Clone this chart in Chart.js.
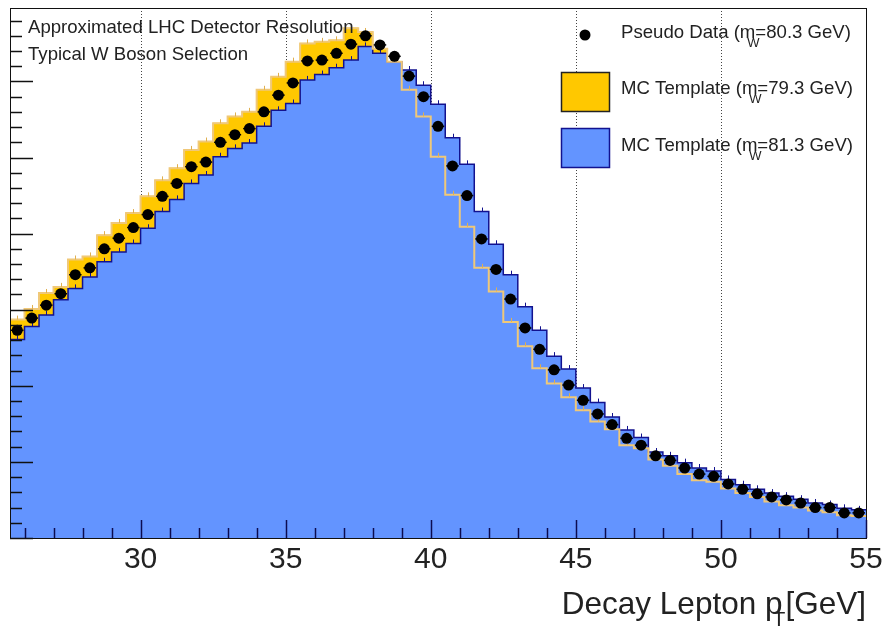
<!DOCTYPE html>
<html>
<head>
<meta charset="utf-8">
<script src="https://cdn.jsdelivr.net/npm/chart.js@4.4.1/dist/chart.umd.min.js"></script>
<style>
  html, body { margin: 0; padding: 0; background: #ffffff; }
  canvas { display: block; }
</style>
</head>
<body>
<canvas id="wpt" width="890" height="629"></canvas>
<script>
// Binning of the lepton pT histogram (GeV)
const ptMin = 25.5;
const ptMax = 55;
const binWidth = 0.5;
const ptBins = Array.from({ length: 59 }, (_, i) => ptMin + i * binWidth);   // low edges
const ptCenters = ptBins.map(lo => lo + binWidth / 2);

// Pseudo data, generated with m_W = 80.3 GeV
const pseudoData = [
  2730, 2890, 3060, 3210, 3460, 3550, 3800, 3940, 4080, 4250,
  4490, 4660, 4880, 4940, 5200, 5300, 5380, 5600, 5820, 5980,
  6270, 6280, 6370, 6490, 6600, 6480, 6330, 6070, 5800, 5410,
  4890, 4500, 3930, 3530, 3140, 2760, 2480, 2210, 2010, 1810,
  1630, 1490, 1310, 1220, 1080, 1020, 920, 840, 810, 710,
  640, 580, 540, 500, 460, 400, 400, 330, 330
];

// MC template, m_W = 79.3 GeV
const templateLow = [
  2870, 3010, 3220, 3300, 3660, 3700, 3980, 4140, 4270, 4490,
  4700, 4860, 5100, 5210, 5450, 5540, 5600, 5890, 6060, 6260,
  6500, 6520, 6540, 6700, 6650, 6430, 6260, 5890, 5540, 5010,
  4510, 4090, 3550, 3240, 2840, 2520, 2230, 2030, 1850, 1680,
  1530, 1430, 1220, 1180, 1030, 950, 840, 760, 740, 650,
  590, 540, 480, 430, 400, 360, 340, 300, 290
];

// MC template, m_W = 81.3 GeV
const templateHigh = [
  2610, 2780, 2930, 3130, 3280, 3430, 3630, 3760, 3870, 4070,
  4290, 4450, 4660, 4770, 5010, 5120, 5190, 5410, 5620, 5710,
  6020, 6090, 6180, 6280, 6460, 6370, 6260, 6150, 5950, 5700,
  5260, 4910, 4290, 3860, 3460, 3040, 2730, 2390, 2220, 1970,
  1780, 1590, 1420, 1320, 1130, 1080, 990, 920, 880, 770,
  700, 640, 590, 550, 510, 460, 440, 390, 370
];

// Axis ticks
const xMajorTicks = [30, 35, 40, 45, 50, 55];
const xGridTicks = [30, 35, 40, 45, 50];
const yMax = 6965;
const yMajorStep = 1000;
const yMinorStep = 200;
const xMinorStep = 1;

const FONT = '"Liberation Sans", Arial, Helvetica, sans-serif';
const TEXT = '#222222';
const YELLOW = '#ffc800';
const YELLOW_LINE = '#f0c878';
const BLUE = '#6394ff';
const NAVY = '#12128f';

// histogram outline: one point per low edge, plus the closing upper edge
const stepPoints = vals =>
  ptBins.map((x, i) => ({ x, y: vals[i] })).concat([{ x: ptMax, y: vals[vals.length - 1] }]);

// text with a subscript placed under the end of the preceding run
function drawWithSub(ctx, pre, sub, post, x, y, size, subSize, subDx, subDy, subAdvance) {
  ctx.font = size + 'px ' + FONT;
  const w1 = ctx.measureText(pre).width;
  ctx.fillText(pre, x, y);
  ctx.font = subSize + 'px ' + FONT;
  ctx.fillText(sub, x + w1 + subDx, y + subDy);
  ctx.font = size + 'px ' + FONT;
  ctx.fillText(post, x + w1 + subAdvance, y);
}
function widthWithSub(ctx, pre, post, size, subAdvance) {
  ctx.font = size + 'px ' + FONT;
  return ctx.measureText(pre).width + subAdvance + ctx.measureText(post).width;
}

const decorations = {
  id: 'decorations',
  beforeDatasetsDraw(chart) {
    const { ctx, chartArea: a, scales: { x } } = chart;
    ctx.save();
    ctx.strokeStyle = '#444';
    ctx.lineWidth = 1;
    ctx.setLineDash([1, 2]);
    xGridTicks.forEach(v => {
      const px = Math.round(x.getPixelForValue(v)) + 0.5;
      ctx.beginPath();
      ctx.moveTo(px, a.top);
      ctx.lineTo(px, a.bottom);
      ctx.stroke();
    });
    ctx.restore();
  },
  beforeDatasetDraw(chart, args) {
    if (args.index !== 0) return;
    // small error marks on the template histograms
    const { ctx, scales: { x, y } } = chart;
    ctx.save();
    ctx.lineWidth = 1;
    ctx.strokeStyle = NAVY;
    templateHigh.forEach((v, i) => {
      const px = Math.round(x.getPixelForValue(ptCenters[i])) + 0.5;
      const py = y.getPixelForValue(v);
      ctx.beginPath(); ctx.moveTo(px, py); ctx.lineTo(px, py - 4); ctx.stroke();
    });
    ctx.strokeStyle = '#e0b050';
    templateLow.forEach((v, i) => {
      const px = Math.round(x.getPixelForValue(ptCenters[i])) + 0.5;
      const py = y.getPixelForValue(v);
      ctx.beginPath(); ctx.moveTo(px, py); ctx.lineTo(px, py - 4); ctx.stroke();
    });
    // horizontal bars on the pseudo data (bin width)
    ctx.strokeStyle = '#000';
    ctx.lineWidth = 1.5;
    pseudoData.forEach((v, i) => {
      const py = y.getPixelForValue(v);
      ctx.beginPath();
      ctx.moveTo(x.getPixelForValue(ptBins[i]) + 1, py);
      ctx.lineTo(x.getPixelForValue(ptBins[i] + binWidth) - 1, py);
      ctx.stroke();
    });
    ctx.restore();
  },
  afterDraw(chart) {
    const { ctx, chartArea: a, scales: { x, y } } = chart;
    ctx.save();

    // frame
    ctx.strokeStyle = '#111';
    ctx.lineWidth = 1;
    ctx.strokeRect(Math.round(a.left) + 0.5, Math.round(a.top) + 0.5,
                   Math.round(a.right - a.left), Math.round(a.bottom - a.top));

    // y ticks (inward, left side)
    ctx.strokeStyle = '#111';
    ctx.lineWidth = 1.5;
    for (let v = 0; v <= yMax; v += yMinorStep) {
      const py = Math.round(y.getPixelForValue(v)) + 0.5;
      const len = (v % yMajorStep === 0) ? 23 : 12;
      ctx.beginPath(); ctx.moveTo(a.left, py); ctx.lineTo(a.left + len, py); ctx.stroke();
    }
    // x ticks (inward, bottom)
    ctx.strokeStyle = '#0c0c50';
    for (let v = Math.ceil(ptMin); v <= ptMax; v += xMinorStep) {
      const px = Math.round(x.getPixelForValue(v)) + 0.5;
      const len = (v % 5 === 0) ? 18 : 10;
      ctx.beginPath(); ctx.moveTo(px, a.bottom); ctx.lineTo(px, a.bottom - len); ctx.stroke();
    }

    // x tick labels
    ctx.fillStyle = TEXT;
    ctx.textAlign = 'center';
    ctx.textBaseline = 'alphabetic';
    ctx.font = '30px ' + FONT;
    xMajorTicks.forEach(v => {
      ctx.fillText(String(v), x.getPixelForValue(v), 568);
    });

    // x axis title
    ctx.textAlign = 'left';
    const tw = widthWithSub(ctx, 'Decay Lepton p', '[GeV]', 31.5, 3);
    drawWithSub(ctx, 'Decay Lepton p', 'T', '[GeV]', a.right - tw, 614, 31.5, 21, -10, 12, 3);

    // annotations
    ctx.font = '18.6px ' + FONT;
    ctx.fillText('Approximated LHC Detector Resolution', 28, 33);
    ctx.fillText('Typical W Boson Selection', 28, 59.5);

    // legend
    ctx.fillStyle = '#000';
    ctx.beginPath(); ctx.arc(585, 35, 5.5, 0, Math.PI * 2); ctx.fill();

    ctx.fillStyle = YELLOW;
    ctx.fillRect(561, 72, 48, 39);
    ctx.strokeStyle = '#222';
    ctx.lineWidth = 1.5;
    ctx.strokeRect(561.5, 72.5, 48, 39);

    ctx.fillStyle = BLUE;
    ctx.fillRect(561, 128, 48, 39);
    ctx.strokeStyle = NAVY;
    ctx.strokeRect(561.5, 128.5, 48, 39);

    ctx.fillStyle = TEXT;
    drawWithSub(ctx, 'Pseudo Data (m', 'W', '=80.3 GeV)', 621, 37.5, 18.6, 13, -8, 9, 0);
    drawWithSub(ctx, 'MC Template (m', 'W', '=79.3 GeV)', 621, 94, 18.6, 13, -8, 9, 0);
    drawWithSub(ctx, 'MC Template (m', 'W', '=81.3 GeV)', 621, 150.5, 18.6, 13, -8, 9, 0);

    ctx.restore();
  }
};

new Chart(document.getElementById('wpt'), {
  type: 'line',
  data: {
    datasets: [
      {
        label: 'Pseudo Data (mW=80.3 GeV)',
        data: ptCenters.map((x, i) => ({ x, y: pseudoData[i] })),
        showLine: false,
        pointRadius: 5.5,
        pointHoverRadius: 5.5,
        pointBackgroundColor: '#000',
        pointBorderColor: '#000',
        pointBorderWidth: 0,
        order: 0
      },
      {
        label: 'MC Template (mW=79.3 GeV) outline',
        data: stepPoints(templateLow),
        stepped: 'before',
        fill: false,
        borderColor: YELLOW_LINE,
        borderWidth: 2,
        pointRadius: 0,
        order: 1
      },
      {
        label: 'MC Template (mW=81.3 GeV)',
        data: stepPoints(templateHigh),
        stepped: 'before',
        fill: 'origin',
        backgroundColor: BLUE,
        borderColor: NAVY,
        borderWidth: 1.5,
        pointRadius: 0,
        order: 2
      },
      {
        label: 'MC Template (mW=79.3 GeV)',
        data: stepPoints(templateLow),
        stepped: 'before',
        fill: 'origin',
        backgroundColor: YELLOW,
        borderColor: YELLOW,
        borderWidth: 1,
        pointRadius: 0,
        order: 3
      }
    ]
  },
  options: {
    responsive: false,
    animation: false,
    devicePixelRatio: 1,
    layout: { padding: { left: 10, right: 24, top: 8, bottom: 91 } },
    plugins: { legend: { display: false }, tooltip: { enabled: false } },
    scales: {
      x: { type: 'linear', min: ptMin, max: ptMax, display: false },
      y: { type: 'linear', min: 0, max: yMax, display: false }
    }
  },
  plugins: [decorations]
});
</script>
</body>
</html>
